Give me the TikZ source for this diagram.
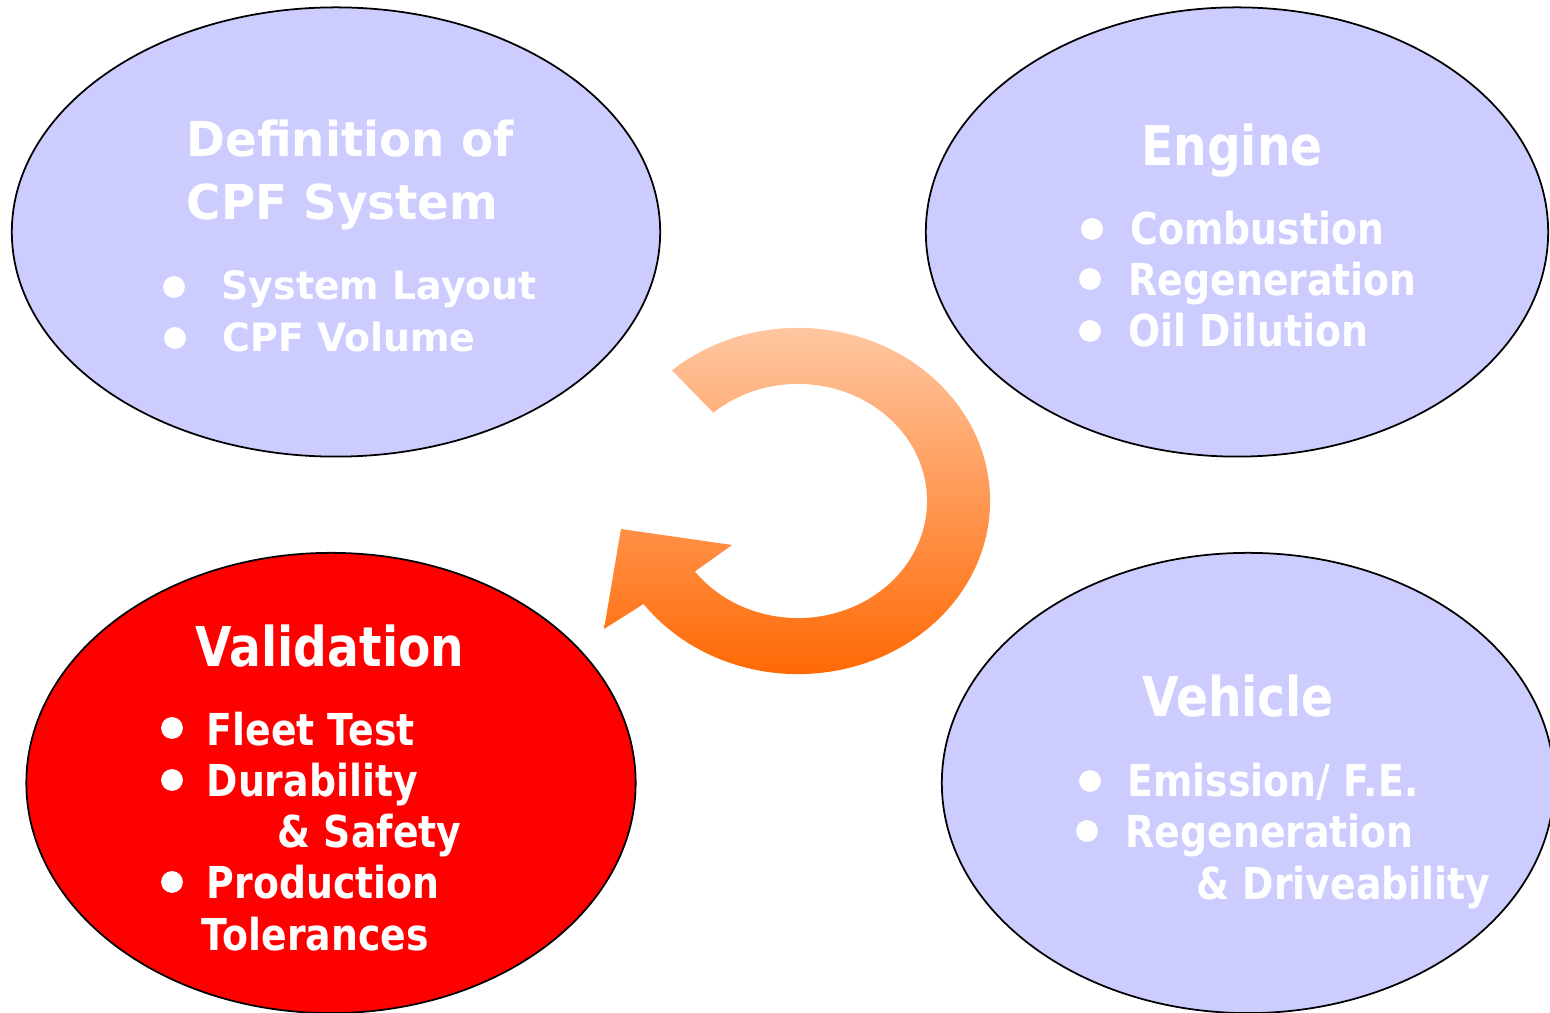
\documentclass[tikz,border=0pt]{standalone}
\usepackage{fontspec}
\usepackage{tikz}
\usetikzlibrary{shapes.geometric}
\newfontfamily\bubblefont{DejaVu Sans}[FakeStretch=0.86]
\newfontfamily\defnfont{DejaVu Sans}[FakeStretch=0.97]
\definecolor{lilac}{HTML}{CCCCFF}
\definecolor{peach}{HTML}{FFCCAA}
\definecolor{tangerine}{HTML}{FF6600}

\tikzset{
  bubble/.style={ellipse, draw=black, line width=0.5pt, inner sep=0pt, fill=lilac},
  headline/.style={anchor=base, text=white, inner sep=0pt,
    font=\bubblefont\bfseries\fontsize{15.6}{18}\selectfont},
  entry/.style={anchor=base west, text=white, inner sep=0pt,
    font=\bubblefont\bfseries\fontsize{12.5}{15}\selectfont},
  defnline/.style={anchor=base west, text=white, inner sep=0pt,
    font=\defnfont\bfseries\fontsize{13.7}{16}\selectfont},
  dot/.style={fill=white}
}

\begin{document}
\begin{tikzpicture}[x=0.01cm,y=-0.01cm]
        \useasboundingbox (0,0) rectangle (1550,1013);
        % the four bubbles
        \node[bubble, minimum width=6.48cm, minimum height=4.49cm] (defn) at (336,232) {};
        \node[bubble, minimum width=6.22cm, minimum height=4.49cm] (engine) at (1237,232) {};
        \node[bubble, minimum width=6.09cm, minimum height=4.60cm, fill=red] (valid) at (331,783) {};
        \node[bubble, minimum width=6.12cm, minimum height=4.60cm] (vehicle) at (1248,783) {};

        % cycle arrow
        \begin{scope}[shift={(798,501)}]
        \path[top color=peach, bottom color=tangerine]
            (131:1.92cm and 1.73cm)
            arc[start angle=131, end angle=-143.5, x radius=1.92cm, y radius=1.73cm]
            -- (-194,128) -- (-177,28) -- (-66,44)
            -- (-143:1.29cm and 1.17cm)
            arc[start angle=-143, end angle=131, x radius=1.29cm, y radius=1.17cm]
            -- cycle;
        \end{scope}

        % definition
        \node[defnline] (defn1) at (186,157) {Definition of};
        \node[defnline] (defn2) at (186,220) {CPF System};
        \node[entry, font=\defnfont\bfseries\fontsize{11.1}{13}\selectfont] (layout) at (221,300) {System Layout};
        \node[entry, font=\defnfont\bfseries\fontsize{11.1}{13}\selectfont] (volume) at (222,352) {CPF Volume};
        \fill[dot] (174,287) circle[radius=3.1pt];
        \fill[dot] (175,338) circle[radius=3.1pt];

        % engine
        \node[headline] (eng) at (1232,166) {Engine};
        \node[entry] (comb) at (1130,245) {Combustion};
        \node[entry] (regen1) at (1128,296) {Regeneration};
        \node[entry] (oil) at (1128,347) {Oil Dilution};
        \fill[dot] (1092,229) circle[radius=3.1pt];
        \fill[dot] (1090,279) circle[radius=3.1pt];
        \fill[dot] (1090,331) circle[radius=3.1pt];

        % validation
        \node[headline] (val) at (330,667) {Validation};
        \node[entry] (fleet) at (206,746) {Fleet Test};
        \node[entry] (dura) at (206,797) {Durability};
        \node[entry] (safety) at (277,848) {\& Safety};
        \node[entry] (prod) at (206,899) {Production};
        \node[entry] (toler) at (201,951) {Tolerances};
        \fill[dot] (172,728) circle[radius=3.1pt];
        \fill[dot] (172,780) circle[radius=3.1pt];
        \fill[dot] (172,882) circle[radius=3.1pt];

        % vehicle
        \node[headline] (veh) at (1238,717) {Vehicle};
        \node[entry] (emis) at (1127,797) {Emission/ F.E.};
        \node[entry] (regen2) at (1125,848) {Regeneration};
        \node[entry] (drive) at (1196,900) {\& Driveability};
        \fill[dot] (1090,781) circle[radius=3.1pt];
        \fill[dot] (1087,831) circle[radius=3.1pt];
\end{tikzpicture}
\end{document}
